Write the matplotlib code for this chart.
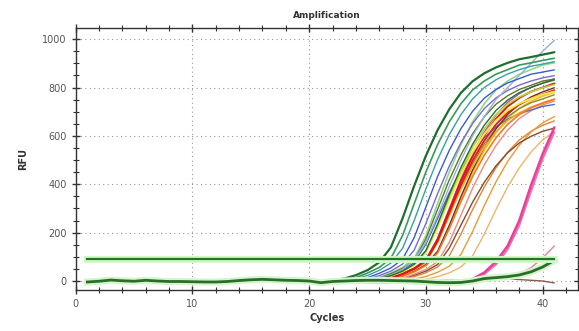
import matplotlib
matplotlib.use("Agg")
import matplotlib.pyplot as plt
from matplotlib.ticker import MultipleLocator

# ---- data ----
cycles = list(range(1, 42))
baseline_1_21 = [-4, -1, 4, 1, -1, 3, 0, -2, -2, -3, -4, -4, -2, 2, 5, 7, 5, 3, 2, 0, -7]

# values for cycles 22..41
c_dkgreen1 = [3, 10, 24, 45, 77, 139, 259, 394, 518, 624, 710, 778, 826, 859, 883, 902, 917, 926, 936, 946]
c_green2   = [2, 5, 14, 33, 56, 94, 188, 320, 451, 564, 658, 733, 790, 827, 855, 874, 893, 902, 912, 921]
c_teal3    = [1, 3, 9, 23, 44, 74, 135, 251, 381, 502, 605, 688, 753, 800, 832, 856, 874, 888, 897, 907]
c_blue4    = [0, 2, 5, 14, 32, 54, 90, 180, 306, 432, 540, 630, 702, 756, 792, 819, 837, 855, 864, 873]
c_ltblue5  = [0, 0, 2, 5, 12, 25, 48, 90, 160, 270, 390, 500, 600, 680, 750, 800, 850, 900, 950, 995]
c_purple6  = [0, 1, 3, 9, 22, 41, 70, 128, 238, 361, 475, 572, 651, 713, 757, 788, 810, 827, 840, 849]
c_olive7   = [0, 0, 2, 4, 13, 30, 52, 87, 174, 296, 418, 522, 609, 679, 731, 766, 792, 809, 827, 835]
c_ygreen8  = [0, 0, 1, 3, 9, 21, 40, 68, 123, 230, 349, 459, 553, 629, 689, 731, 761, 782, 799, 812]
c_ltgreen9 = [0, 0, 2, 5, 14, 33, 56, 94, 188, 320, 451, 564, 658, 733, 790, 827, 855, 874, 893, 902]
c_yellow10 = [0, 0, 1, 2, 8, 21, 39, 66, 119, 221, 336, 443, 533, 607, 664, 705, 734, 754, 771, 783]
c_dkgreen11 = [0, 0, 1, 3, 9, 22, 41, 70, 126, 235, 357, 470, 566, 644, 705, 748, 779, 800, 818, 831]
c_red12    = [0, 0, 0, 2, 4, 13, 30, 52, 86, 172, 292, 413, 516, 602, 671, 722, 757, 783, 800, 817]
c_red13    = [0, 0, 0, 2, 4, 12, 29, 50, 83, 166, 282, 398, 498, 581, 647, 697, 730, 755, 772, 789]
c_magenta14 = [0, 0, 0, 2, 4, 13, 31, 53, 88, 176, 299, 422, 528, 616, 686, 739, 774, 801, 818, 836]
c_orange15 = [0, 0, 0, 1, 2, 8, 20, 38, 64, 116, 216, 328, 432, 520, 592, 648, 688, 716, 736, 752]
c_gold16   = [0, 0, 0, 2, 4, 12, 28, 47, 79, 158, 269, 379, 474, 553, 616, 664, 695, 719, 735, 751]
c_brown17  = [0, 0, 0, 1, 3, 9, 21, 40, 68, 123, 230, 349, 459, 553, 629, 689, 731, 761, 782, 799]
c_olive18  = [0, 0, 0, 2, 4, 12, 28, 49, 81, 162, 275, 389, 486, 567, 632, 680, 713, 737, 753, 770]
c_blue19   = [0, 0, 2, 4, 11, 27, 46, 76, 152, 258, 365, 456, 532, 593, 638, 669, 692, 707, 722, 730]
c_salmon20 = [0, 0, 0, 0, 2, 4, 12, 28, 48, 80, 160, 272, 384, 480, 560, 624, 672, 704, 728, 744]
c_gold21   = [0, 0, 0, 1, 2, 8, 21, 39, 66, 120, 224, 340, 448, 540, 614, 672, 714, 743, 764, 780]
c_brown22  = [0, 0, 0, 0, 1, 3, 10, 24, 41, 68, 136, 231, 326, 408, 476, 530, 571, 598, 619, 632]
c_orange23 = [0, 0, 0, 0, 0, 1, 2, 8, 19, 36, 61, 110, 205, 312, 410, 494, 562, 616, 654, 680]
c_ltorange24 = [0, 0, 0, 0, 0, 0, 1, 2, 7, 18, 34, 58, 104, 194, 295, 389, 468, 533, 583, 619]
c_orange25 = [0, 0, 0, 0, 1, 2, 7, 18, 34, 58, 104, 194, 295, 389, 468, 533, 583, 619, 644, 662]
c_pink26   = [-2, -2, -3, -4, -5, -6, -7, -8, -9, -10, -10, -8, 8, 35, 80, 145, 250, 395, 525, 635]
c_pink27   = [-2, -2, -3, -4, -5, -6, -7, -8, -9, -10, -10, -8, 5, 28, 68, 130, 230, 370, 505, 615]
c_pink28   = [-1, 0, 1, 1, 2, 2, 2, 1, 1, 0, 0, 0, 0, 0, 5, 15, 30, 55, 95, 145]
c_brown29  = [-1, 0, 1, 2, 2, 3, 3, 3, 4, 4, 4, 4, 5, 10, 12, 10, 6, 3, 0, -8]
c_green30  = [-2, 0, 2, 3, 3, 2, 1, 0, -3, -6, -7, -6, 0, 10, 14, 18, 25, 38, 58, 85]

threshold = 91

curves = [
    (c_ltorange24, "#f5b36b", 1.0),
    (c_orange25, "#e8843a", 1.0),
    (c_orange23, "#f09a30", 1.0),
    (c_brown22, "#8a4a2a", 1.0),
    (c_salmon20, "#f08a7a", 1.0),
    (c_gold21, "#f2c02a", 1.2),
    (c_blue19, "#4a6ad8", 1.0),
    (c_olive18, "#8c8c2a", 1.0),
    (c_brown17, "#7a2a2a", 1.0),
    (c_gold16, "#f5a820", 1.2),
    (c_orange15, "#f07a20", 1.2),
    (c_magenta14, "#c050a8", 1.0),
    (c_red13, "#e02020", 1.4),
    (c_red12, "#d81818", 1.4),
    (c_yellow10, "#f2ea40", 1.4),
    (c_ygreen8, "#b0d838", 1.2),
    (c_ltgreen9, "#90d890", 1.2),
    (c_olive7, "#5a7a2a", 1.0),
    (c_purple6, "#7a6ad0", 1.0),
    (c_ltblue5, "#9ab0d8", 1.0),
    (c_blue4, "#3a5ad0", 1.0),
    (c_teal3, "#3aa0a0", 1.0),
    (c_dkgreen11, "#2a6a3a", 1.0),
    (c_green2, "#3a9a5a", 1.2),
    (c_dkgreen1, "#1e6e2e", 1.6),
    (c_pink28, "#f0809a", 1.0),
    (c_brown29, "#8a5a4a", 1.0),
    (c_pink27, "#f070b0", 1.4),
    (c_pink26, "#e8409a", 1.8),
]

fig = plt.figure(figsize=(5.79, 3.31), dpi=100)
ax = fig.add_axes([0.1307, 0.124, 0.867, 0.792])

for vals, col, lw in curves:
    ax.plot(cycles, baseline_1_21 + vals, color=col, lw=lw, solid_capstyle="round")

# non-amplifying green well with light halo (the thick baseline band)
ax.plot(cycles, baseline_1_21 + c_green30, color="#d4f5cc", lw=5, zorder=2.5)
ax.plot(cycles, baseline_1_21 + c_green30, color="#2a6e2a", lw=2.0, zorder=3)

# threshold line with halo
ax.plot([cycles[0], cycles[-1]], [threshold, threshold], color="#d4f5cc", lw=5, zorder=4)
ax.plot([cycles[0], cycles[-1]], [threshold, threshold], color="#1f7a1f", lw=1.6, zorder=5)

ax.set_xlim(0, 43)
ax.set_ylim(-37, 1047)
ax.xaxis.set_major_locator(MultipleLocator(10))
ax.xaxis.set_minor_locator(MultipleLocator(2))
ax.yaxis.set_major_locator(MultipleLocator(200))
ax.yaxis.set_minor_locator(MultipleLocator(50))
ax.tick_params(which="both", direction="inout", top=True, right=True,
               colors="#333333", labelcolor="#555555", labelsize=7)
ax.tick_params(which="major", length=6, width=1)
ax.tick_params(which="minor", length=4, width=0.8)
ax.grid(True, which="major", linestyle=(0, (1, 3)), color="#999999", lw=0.8)
for s in ax.spines.values():
    s.set_color("#333333")
    s.set_linewidth(1.0)

ax.set_title("Amplification", fontsize=6.5, fontweight="bold", color="#333333", pad=7)
ax.set_xlabel("Cycles", fontsize=7, fontweight="bold", color="#333333", labelpad=3)
ax.set_ylabel("RFU", fontsize=7, fontweight="bold", color="#333333", labelpad=10)

fig.savefig("out.png", dpi=100)
